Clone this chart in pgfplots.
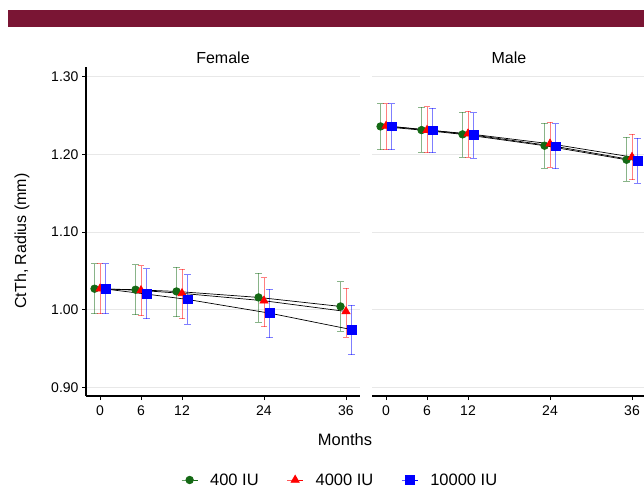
\documentclass[border=0pt]{standalone}
\usepackage{pgfplots}
\pgfplotsset{compat=1.18}
\usepackage{pgfplotstable}
\usepackage{fontspec}
\setmainfont{Liberation Sans}
\definecolor{banner}{RGB}{122,21,52}
\definecolor{dgreen}{RGB}{20,105,20}
\definecolor{gridc}{RGB}{232,232,232}

% Female
\pgfplotstableread{
x y top bot
-0.8 1.0271 1.0594 0.9948
5.2 1.0258 1.0577 0.9935
11.2 1.0236 1.0551 0.9913
23.2 1.0159 1.0469 0.9840
35.2 1.0043 1.0361 0.9724
}\fgreen
\pgfplotstableread{
x y top bot
0 1.0271 1.0594 0.9948
6 1.0249 1.0568 0.9922
12 1.0211 1.0521 0.9883
24 1.0116 1.0413 0.9784
36 0.9978 1.0280 0.9646
}\fred
\pgfplotstableread{
x y top bot
0.8 1.0267 1.0594 0.9948
6.8 1.0202 1.0529 0.9883
12.8 1.0133 1.0452 0.9814
24.8 0.9957 1.0267 0.9638
36.8 0.9745 1.0056 0.9422
}\fblue
% Male
\pgfplotstableread{
x y top bot
-0.8 1.2360 1.2652 1.2060
5.2 1.2313 1.2605 1.2026
11.2 1.2258 1.2545 1.1961
23.2 1.2112 1.2403 1.1824
35.2 1.1931 1.2223 1.1652
}\mgreen
\pgfplotstableread{
x y top bot
0 1.2365 1.2652 1.2060
6 1.2313 1.2614 1.2021
12 1.2266 1.2558 1.1966
24 1.2137 1.2416 1.1837
36 1.1966 1.2258 1.1674
}\mred
\pgfplotstableread{
x y top bot
0.8 1.2360 1.2652 1.2060
6.8 1.2309 1.2596 1.2021
12.8 1.2249 1.2536 1.1953
24.8 1.2103 1.2395 1.1816
36.8 1.1918 1.2210 1.1631
}\mblue

\pgfplotsset{
  panel/.style={
    scale only axis, width=274pt, height=329pt,
    xmin=-2.05, xmax=38.05, ymin=0.889, ymax=1.3125,
    xtick={0,6,12,24,36},
    ytick={0.9,1,1.1,1.2,1.3},
    yticklabels={0.90,1.00,1.10,1.20,1.30},
    ymajorgrids, grid style={gridc, line width=0.8pt},
    axis x line*=bottom, axis y line*=left,
    axis line style={line width=1.3pt, -},
    tick align=outside, major tick length=4pt,
    tick style={black, line width=0.9pt},
    ticklabel style={font=\fontsize{14}{14}\selectfont},
    xticklabel style={yshift=-2pt},
    /pgf/number format/assume math mode=true,
    clip=false,
  },
  ebar/.style={draw=none, mark=none, forget plot,
    error bars/.cd, y dir=both, y explicit,
    error bar style={draw=#1, opacity=0.5, line width=0.9pt},
    error mark options={draw=#1, opacity=0.5, line width=0.9pt, mark size=3.3pt, rotate=90}},
  ser/.style={black, line width=0.7pt, forget plot},
  legimg/.style={legend image code/.code={
    \draw[mark repeat=2, mark phase=2, line width=0.9pt, ##1] plot coordinates {(0pt,0pt) (8pt,0pt) (16pt,0pt)};}},
}

\begin{document}
\begin{tikzpicture}
\useasboundingbox (0pt,0pt) rectangle (644pt,488pt);
\fill[banner] (8pt,478pt) rectangle (644pt,461pt);

\begin{axis}[panel, at={(86pt,92pt)}, anchor=south west,
  legend columns=3,
  legend style={draw=none, fill=none, at={(0.3467,-0.2553)}, anchor=west,
    font=\fontsize{16.5}{16.5}\selectfont, inner sep=0pt,
    /tikz/every odd column/.append style={column sep=10pt},
    /tikz/every even column/.append style={column sep=26pt}},
  legimg]
\addplot[ebar=dgreen] table[x=x, y=y, y error plus expr=\thisrow{top}-\thisrow{y}, y error minus expr=\thisrow{y}-\thisrow{bot}] {\fgreen};
\addplot[ebar=red] table[x=x, y=y, y error plus expr=\thisrow{top}-\thisrow{y}, y error minus expr=\thisrow{y}-\thisrow{bot}] {\fred};
\addplot[ebar=blue] table[x=x, y=y, y error plus expr=\thisrow{top}-\thisrow{y}, y error minus expr=\thisrow{y}-\thisrow{bot}] {\fblue};
\addplot[ser, mark=*, mark size=3.8pt, mark options={draw=dgreen, fill=dgreen}] table[x=x, y=y] {\fgreen};
\addplot[ser, mark=triangle*, mark size=4.7pt, mark options={draw=red, fill=red}] table[x=x, y=y] {\fred};
\addplot[ser, mark=square*, mark size=4.4pt, mark options={draw=blue, fill=blue}] table[x=x, y=y] {\fblue};
\addlegendimage{dgreen, mark=*, mark size=3.7pt, mark options={fill=dgreen}}
\addlegendentry{400 IU}
\addlegendimage{red, mark=triangle*, mark size=4.6pt, mark options={fill=red}}
\addlegendentry{4000 IU}
\addlegendimage{blue, mark=square*, mark size=4.2pt, mark options={fill=blue}}
\addlegendentry{10000 IU}
\end{axis}

\begin{axis}[panel, at={(372pt,92pt)}, anchor=south west,
  yticklabels={}, y axis line style={draw=none}, ytick style={draw=none}]
\addplot[ebar=dgreen] table[x=x, y=y, y error plus expr=\thisrow{top}-\thisrow{y}, y error minus expr=\thisrow{y}-\thisrow{bot}] {\mgreen};
\addplot[ebar=red] table[x=x, y=y, y error plus expr=\thisrow{top}-\thisrow{y}, y error minus expr=\thisrow{y}-\thisrow{bot}] {\mred};
\addplot[ebar=blue] table[x=x, y=y, y error plus expr=\thisrow{top}-\thisrow{y}, y error minus expr=\thisrow{y}-\thisrow{bot}] {\mblue};
\addplot[ser, mark=*, mark size=3.8pt, mark options={draw=dgreen, fill=dgreen}] table[x=x, y=y] {\mgreen};
\addplot[ser, mark=triangle*, mark size=4.7pt, mark options={draw=red, fill=red}] table[x=x, y=y] {\mred};
\addplot[ser, mark=square*, mark size=4.4pt, mark options={draw=blue, fill=blue}] table[x=x, y=y] {\mblue};
\end{axis}

\node[font=\fontsize{16}{16}\selectfont] at (223pt,430pt) {Female};
\node[font=\fontsize{16}{16}\selectfont] at (509pt,430pt) {Male};
\node[font=\fontsize{16}{16}\selectfont, rotate=90] at (22pt,247pt) {CtTh, Radius (mm)};
\node[font=\fontsize{16.5}{16.5}\selectfont] at (345pt,48pt) {Months};
\end{tikzpicture}
\end{document}
